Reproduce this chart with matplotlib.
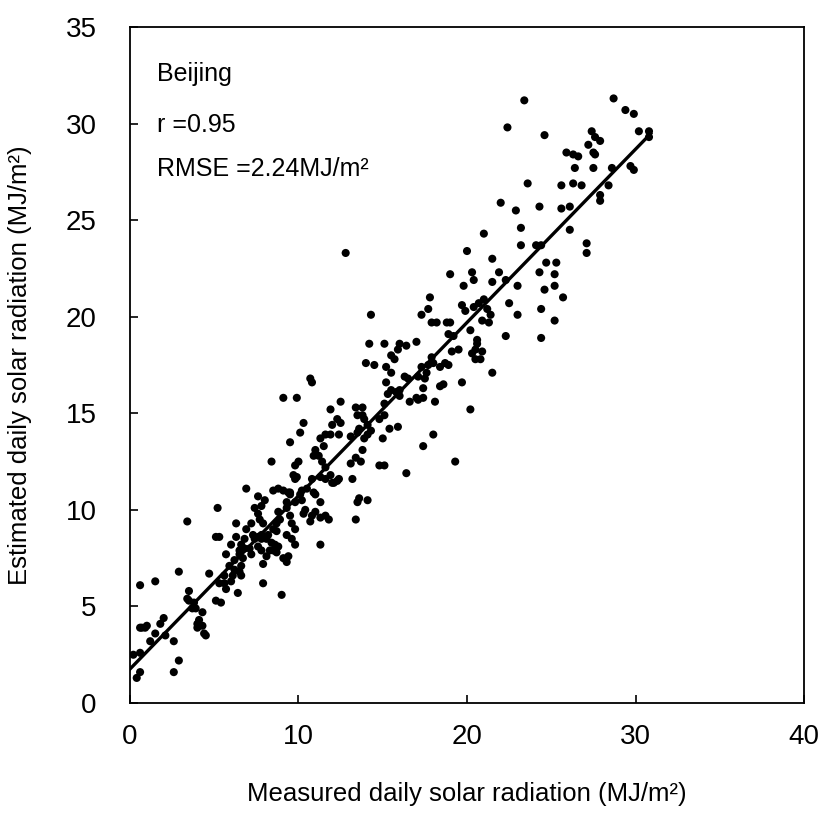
import numpy as np
import matplotlib
matplotlib.use("Agg")
import matplotlib.pyplot as plt

plt.rcParams['font.family'] = ['Liberation Sans', 'DejaVu Sans']

# measured (x) vs estimated (y) daily solar radiation, MJ/m2
# high end (x > 21)
hi_x = [23.4, 28.7, 29.4, 29.9, 30.2, 30.8, 30.8, 29.7, 29.9, 28.6,
        28.4, 27.9, 27.9, 27.6, 27.9, 27.4, 27.2, 27.5, 27.6, 27.5,
        25.9, 26.3, 26.6, 26.4, 26.3, 25.6, 26.8, 26.1, 25.6, 26.1,
        27.1, 27.1, 24.6, 22.4, 23.6, 22.0, 22.9, 23.2, 24.3, 23.2,
        24.1, 24.4, 24.7, 25.3, 24.3, 25.2, 24.6, 25.2, 25.7, 24.4,
        25.2, 24.4, 21.0, 21.5, 21.9, 22.3, 21.5, 23.0, 22.5, 23.0,
        22.3, 21.5]
hi_y = [31.2, 31.3, 30.7, 30.5, 29.6, 29.6, 29.3, 27.8, 27.6, 27.7,
        26.8, 26.0, 26.3, 29.3, 29.1, 29.6, 28.9, 28.5, 28.4, 27.7,
        28.5, 28.4, 28.3, 27.7, 26.9, 26.8, 26.8, 25.7, 25.6, 24.5,
        23.8, 23.3, 29.4, 29.8, 26.9, 25.9, 25.5, 24.6, 25.7, 23.7,
        23.7, 23.7, 22.8, 22.8, 22.3, 22.2, 21.4, 21.6, 21.0, 20.4,
        19.8, 18.9, 24.3, 23.0, 22.3, 21.9, 21.8, 21.6, 20.7, 20.1,
        19.0, 17.1]

# 17-21
b_x = [20.0, 19.0, 20.3, 20.4, 19.8, 19.7, 19.9, 20.4, 20.7, 21.0,
       21.2, 20.9, 21.4, 21.3, 20.2, 20.6, 20.6, 20.5, 20.9, 20.8,
       20.5, 20.3, 18.9, 19.2, 18.8, 19.0, 17.9, 18.2, 17.7, 17.3,
       17.8, 19.1, 18.7, 18.9, 19.5, 19.7, 20.2, 19.3]
b_y = [23.4, 22.2, 22.3, 21.9, 21.6, 20.6, 20.3, 20.5, 20.7, 20.9,
       20.4, 19.8, 20.1, 19.7, 19.3, 18.8, 18.6, 18.3, 18.2, 17.8,
       17.8, 18.1, 19.1, 19.0, 19.7, 19.7, 19.7, 19.7, 20.4, 20.1,
       21.0, 18.2, 17.6, 17.5, 18.3, 16.6, 15.2, 12.5]

# 13-18.5
c_x = [17.9, 18.0, 17.7, 18.4, 18.6, 18.4, 18.1, 17.3, 17.6, 17.1,
       17.5, 17.4, 17.4, 17.0, 16.5, 16.6, 17.1, 17.0, 16.4, 18.0,
       17.4, 16.4, 16.0, 16.0, 15.8, 15.5, 15.3, 15.9, 16.0, 15.5,
       15.7, 15.1, 15.5, 14.2, 14.3, 14.5, 15.2, 15.2, 15.1, 15.1,
       14.8, 15.4, 15.0, 15.1, 14.8, 14.1, 14.3, 13.8, 13.9, 13.4,
       13.5, 13.8, 13.6, 13.1, 13.5, 13.9, 14.1, 13.8, 13.4, 13.7,
       13.1, 13.2, 13.6, 13.5, 14.1, 13.4, 14.0, 16.3, 15.9]
c_y = [17.9, 17.6, 17.5, 17.4, 16.5, 16.4, 15.6, 17.4, 17.1, 16.9,
       16.8, 16.3, 15.8, 15.8, 16.8, 15.6, 15.7, 18.7, 18.5, 13.9,
       13.3, 11.9, 16.2, 15.9, 16.1, 16.2, 16.0, 18.3, 18.6, 18.0,
       17.8, 18.6, 17.1, 18.6, 20.1, 17.5, 17.4, 16.6, 15.5, 14.9,
       14.7, 14.2, 13.7, 12.3, 12.3, 14.4, 14.1, 14.9, 14.7, 15.3,
       14.9, 15.3, 14.2, 13.8, 14.0, 13.7, 13.9, 13.1, 12.7, 12.5,
       12.4, 11.6, 10.6, 10.4, 10.5, 9.5, 17.6, 16.9, 14.3]

# 8-13
d_x = [12.8, 12.5, 11.9, 12.3, 12.5, 12.0, 11.6, 11.9, 12.4, 11.9,
       12.4, 12.1, 12.3, 12.0, 11.3, 11.5, 11.0, 11.2, 11.4, 11.6,
       11.6, 11.3, 10.9, 10.7, 10.8, 9.9, 9.1, 10.3, 10.1, 9.5,
       9.8, 10.0, 10.8, 10.5, 10.9, 11.0, 10.2, 9.9, 9.7, 9.8,
       8.4, 10.1, 10.2, 9.8, 10.4, 10.3, 10.8, 10.7, 11.0, 11.3,
       11.3, 11.6, 11.8, 11.3]
d_y = [23.3, 15.6, 15.2, 14.7, 14.5, 14.4, 13.9, 13.9, 13.9, 11.8,
       11.6, 11.4, 11.5, 11.4, 13.7, 13.3, 13.1, 12.8, 12.5, 12.2,
       11.6, 11.7, 12.8, 16.8, 16.6, 15.8, 15.8, 14.5, 14.0, 13.5,
       12.3, 12.5, 11.6, 11.1, 10.9, 10.8, 11.0, 11.7, 11.8, 11.6,
       12.5, 10.8, 10.5, 10.4, 10.0, 9.8, 9.7, 9.4, 9.9, 10.4,
       9.6, 9.7, 9.5, 8.2]

# 7-10
e_x = [9.5, 9.5, 9.4, 9.1, 8.8, 8.5, 9.3, 9.3, 9.5, 9.6,
       9.8, 9.3, 9.6, 9.8, 9.4, 9.3, 9.1, 9.0, 8.8, 8.9,
       8.7, 8.5, 8.7, 8.2, 8.4, 8.6, 8.8, 8.7, 8.5, 8.3,
       7.9, 7.7, 7.6, 7.8, 8.0, 7.6, 6.9, 7.4, 7.2, 6.9,
       7.3, 7.4, 7.6, 7.8, 7.8, 8.1, 7.6, 7.8, 8.1, 7.9,
       7.9]
e_y = [10.9, 10.8, 10.9, 11.0, 11.1, 11.0, 10.4, 10.1, 9.7, 9.3,
       9.0, 8.7, 8.5, 8.2, 7.6, 7.3, 7.5, 5.6, 9.9, 9.5,
       9.3, 9.0, 8.9, 8.7, 8.3, 8.2, 8.1, 7.8, 7.9, 7.9,
       9.3, 9.5, 9.8, 10.2, 10.5, 10.7, 11.1, 10.1, 9.3, 9.0,
       8.7, 8.5, 8.6, 8.7, 8.5, 8.5, 8.1, 7.9, 7.6, 7.2,
       6.2]

# 4.5-7
f_x = [6.8, 6.6, 6.8, 6.5, 7.1, 7.2, 6.7, 6.5, 6.3, 6.2,
       6.6, 6.5, 6.6, 6.2, 5.9, 5.7, 6.3, 6.0, 5.3, 5.1,
       5.2, 5.6, 5.3, 5.6, 5.7, 6.0, 6.4, 5.4, 5.1, 4.7,
       6.1]
f_y = [8.5, 8.2, 8.0, 7.9, 8.0, 7.7, 7.5, 7.7, 8.6, 7.4,
       7.1, 6.8, 6.6, 6.9, 7.1, 7.7, 9.3, 8.2, 8.6, 8.6,
       10.1, 6.6, 6.2, 6.2, 5.9, 6.3, 5.7, 5.2, 5.3, 6.7,
       6.6]

# low end (x < 4.5)
lo_x = [4.3, 4.1, 4.3, 4.0, 4.0, 4.4, 4.5, 3.9, 3.8, 3.5,
        3.4, 3.5, 3.7, 3.4, 2.9, 2.9, 2.6, 2.6, 2.0, 1.8,
        2.1, 1.5, 1.5, 1.0, 0.9, 1.2, 0.6, 0.6, 0.7, 0.6,
        0.2, 0.6, 0.4]
lo_y = [4.7, 4.3, 4.0, 4.1, 3.9, 3.6, 3.5, 4.9, 5.2, 5.3,
        5.4, 5.8, 4.9, 9.4, 6.8, 2.2, 3.2, 1.6, 4.4, 4.1,
        3.5, 6.3, 3.6, 4.0, 3.9, 3.2, 6.1, 3.9, 3.9, 2.6,
        2.5, 1.6, 1.3]

measured = hi_x + b_x + c_x + d_x + e_x + f_x + lo_x
estimated = hi_y + b_y + c_y + d_y + e_y + f_y + lo_y

# regression line as drawn in the figure
fit_slope = 0.897
fit_intercept = 1.76
fit_range = [0.0, 30.9]

station = "Beijing"
r_value = 0.95
rmse = 2.24

fig = plt.figure(figsize=(8.3, 8.17), dpi=100)
ax = fig.add_axes([0.1566, 0.1395, 0.8121, 0.8275])

ax.scatter(measured, estimated, s=34, color='black', edgecolors='none', zorder=3)
xf = np.array(fit_range)
ax.plot(xf, fit_slope * xf + fit_intercept, color='black', linewidth=2.4, zorder=4)

ax.set_xlim(0, 40)
ax.set_ylim(0, 35)
ax.set_xticks([0, 10, 20, 30, 40])
ax.set_yticks([0, 5, 10, 15, 20, 25, 30, 35])
ax.tick_params(direction='in', length=6, width=1.2, labelsize=20)
ax.tick_params(axis='x', pad=15)
ax.tick_params(axis='y', pad=24)
for s in ax.spines.values():
    s.set_linewidth(1.3)

ax.set_xlabel('Measured daily solar radiation (MJ/m\u00b2)', fontsize=18.5, labelpad=23)
ax.set_ylabel('Estimated daily solar radiation (MJ/m\u00b2)', fontsize=18.5, labelpad=24)

ax.text(0.04, 0.93, station, transform=ax.transAxes, fontsize=18, va='center')
ax.text(0.04, 0.855, f"r ={r_value:.2f}", transform=ax.transAxes, fontsize=18, va='center')
ax.text(0.04, 0.79, f"RMSE ={rmse:.2f}MJ/m\u00b2", transform=ax.transAxes, fontsize=18, va='center')

fig.savefig('out.png', dpi=100)
